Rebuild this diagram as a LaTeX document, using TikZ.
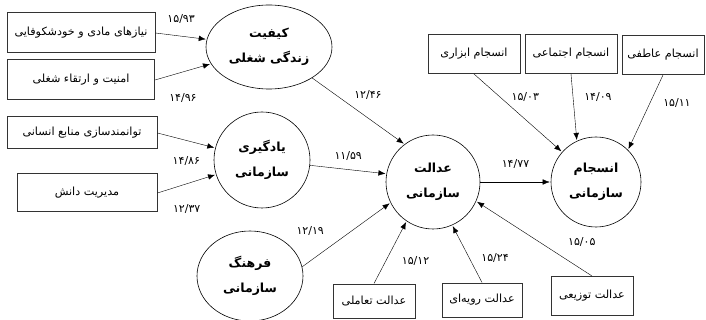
\documentclass[tikz,border=0pt]{standalone}
\usepackage{fontspec}
\newfontfamily\farsi[Script=Arabic]{DejaVu Sans}
\TeXXeTstate=1
\newcommand\fa[1]{{\farsi\beginR #1\endR}}
\usetikzlibrary{shapes.geometric,arrows.meta}

\begin{document}
\begin{tikzpicture}[x=1pt,y=-1pt,->,>={Latex[length=7pt,width=5.5pt]},shorten >=1pt,
  main node/.style={circle,draw,line width=0.6pt,minimum size=94pt,inner sep=0pt,align=center,font=\farsi\bfseries\fontsize{12.5}{25}\selectfont},
  oval node/.style={main node,ellipse},
  box node/.style={rectangle,draw=black!80,line width=1pt,inner sep=0pt,font=\farsi\fontsize{11.2}{14}\selectfont},
  num/.style={font=\farsi\fontsize{11}{13}\selectfont,inner sep=1pt}]

\useasboundingbox (0,0) rectangle (706,320);

% left boxes
\node[box node,minimum width=148pt,minimum height=40pt] (b1) at (81,33) {\fa{نیازهای مادی و خودشکوفایی}};
\node[box node,minimum width=147pt,minimum height=40pt] (b2) at (81,80) {\fa{امنیت و ارتقاء شغلی}};
\node[box node,minimum width=150pt,minimum height=32pt] (b3) at (82,133) {\fa{توانمندسازی منابع انسانی}};
\node[box node,minimum width=140pt,minimum height=38pt] (b4) at (87,193) {\fa{مدیریت دانش}};

% main nodes
\node[oval node,minimum width=126pt,minimum height=84pt] (kq) at (269,47) {\fa{کیفیت}\\\fa{زندگی شغلی}};
\node[main node,minimum size=96pt] (yo) at (262,160) {\fa{یادگیری}\\\fa{سازمانی}};
\node[oval node,minimum width=106pt,minimum height=90pt] (fr) at (250,276) {\fa{فرهنگ}\\\fa{سازمانی}};
\node[main node] (ad) at (433,182) {\fa{عدالت}\\\fa{سازمانی}};
\node[main node,minimum size=90pt] (en) at (596,182) {\fa{انسجام}\\\fa{سازمانی}};

% top boxes
\node[box node,minimum width=92pt,minimum height=39pt] (ab) at (474,54) {\fa{انسجام ابزاری}};
\node[box node,minimum width=92pt,minimum height=39pt] (ej) at (571,54) {\fa{انسجام اجتماعی}};
\node[box node,minimum width=82pt,minimum height=39pt] (at) at (663,55) {\fa{انسجام عاطفی}};

% bottom boxes
\node[box node,minimum width=82pt,minimum height=34pt] (ta) at (374,301) {\fa{عدالت تعاملی}};
\node[box node,minimum width=80pt,minimum height=34pt] (tr) at (482,300) {\fa{عدالت رویه‌ای}};
\node[box node,minimum width=82pt,minimum height=39pt] (tz) at (592,296) {\fa{عدالت توزیعی}};

\path (b1.east) edge node[num,above=11pt] {۱۵/۹۳} (kq);
\path (b2.east) edge node[num,below=20pt] {۱۴/۹۶} (kq);
\path (b3.east) edge node[num,below=15pt] {۱۴/۸۶} (yo);
\path (b4.east) edge node[num,below=20pt] {۱۲/۳۷} (yo);

\path (kq) edge node[num,pos=0.4,above right=4pt] {۱۲/۴۶} (ad.127);
\path (yo) edge node[num,above=8pt] {۱۱/۵۹} (ad.170);
\path (fr.10) edge node[num,pos=0.35,above left=8pt] {۱۲/۱۹} (ad.206);

\path (ad) edge node[num,above=12pt] {۱۴/۷۷} (en);

\path (ab.south) edge node[num,pos=0.3,right=10pt] {۱۵/۰۳} (en);
\path (ej.south) edge node[num,pos=0.35,right=10pt] {۱۴/۰۹} (en.115);
\path (at.south) edge node[num,pos=0.37,right=12pt] {۱۵/۱۱} (en.45);

\path (ta.north) edge node[num,pos=0.36,right=15pt] {۱۵/۱۲} (ad.236);
\path (tr.north) edge node[num,pos=0.43,right=11pt] {۱۵/۲۴} (ad.294);
\path (tz.north) edge node[num,pos=0.45,right=27pt] {۱۵/۰۵} (ad.336);
\end{tikzpicture}
\end{document}
